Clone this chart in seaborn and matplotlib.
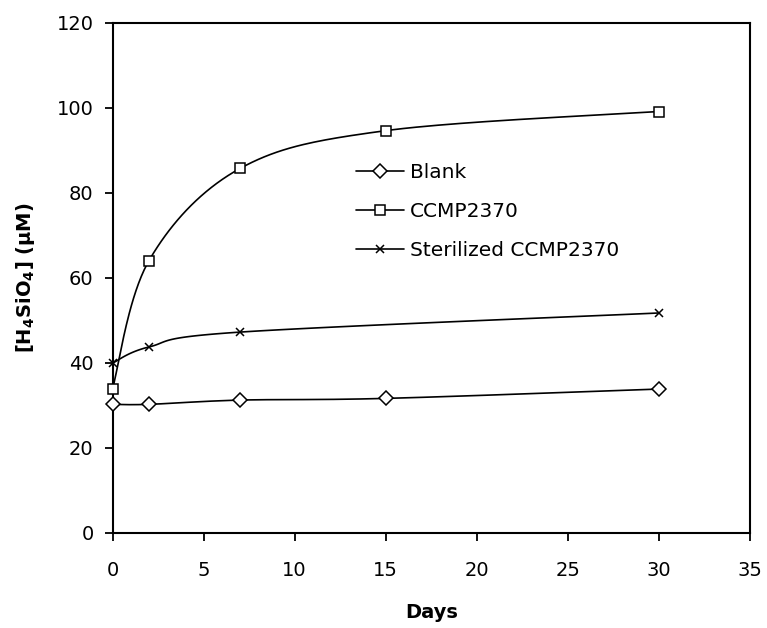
import numpy as np
import pandas as pd
import matplotlib
matplotlib.use("Agg")
import matplotlib.pyplot as plt
from matplotlib.lines import Line2D
import seaborn as sns

# ---- data ----
days_blank = [0, 2, 7, 15, 30]
blank = [30.2, 30.2, 31.2, 31.6, 33.8]
days_ccmp = [0, 2, 7, 15, 30]
ccmp = [33.8, 64.0, 85.7, 94.6, 99.1]
days_steril = [0, 2, 7, 30]
steril = [39.9, 43.7, 47.2, 51.7]
labels = ["Blank", "CCMP2370", "Sterilized CCMP2370"]
x_ticks = [0, 5, 10, 15, 20, 25, 30, 35]
y_ticks = [0, 20, 40, 60, 80, 100, 120]

sns.set_theme(style="white")
plt.rcParams["font.family"] = ["DejaVu Sans"]
plt.rcParams["mathtext.fontset"] = "dejavusans"

W, H = 767, 628
fig = plt.figure(figsize=(W / 100, H / 100), dpi=100)
L, R, T, B = 112.5, 750.0, 22.7, 532.7
ax = fig.add_axes([L / W, (H - B) / H, (R - L) / W, (B - T) / H])

XMAX, YMAX = 35.0, 120.0
sx = (R - L) / XMAX
sy = (B - T) / YMAX


def smooth(xs, ys, n=40):
    """Excel-style smoothed line (cubic Bezier, 1/6 tension) in pixel space."""
    P = np.column_stack([np.asarray(xs, float) * sx, np.asarray(ys, float) * sy])
    m = len(P)
    out = []
    for i in range(m - 1):
        p0 = P[max(i - 1, 0)]
        p1 = P[i]
        p2 = P[i + 1]
        p3 = P[min(i + 2, m - 1)]
        c1 = p1 + (p2 - p0) / 6.0
        c2 = p2 - (p3 - p1) / 6.0
        t = np.linspace(0, 1, n)[:, None]
        seg = ((1 - t) ** 3) * p1 + 3 * ((1 - t) ** 2) * t * c1 + 3 * (1 - t) * t ** 2 * c2 + t ** 3 * p2
        if i > 0:
            seg = seg[1:]
        out.append(seg)
    c = np.vstack(out)
    return c[:, 0] / sx, c[:, 1] / sy


series = [
    (days_blank, blank, "D", 6.8),
    (days_ccmp, ccmp, "s", 7.0),
    (days_steril, steril, "x", 6.0),
]

handles = []
for (xs, ys, mk, ms), lab in zip(series, labels):
    cx, cy = smooth(xs, ys)
    df_line = pd.DataFrame({"x": cx, "y": cy})
    sns.lineplot(data=df_line, x="x", y="y", ax=ax, color="black", lw=1.2,
                 sort=False, estimator=None, legend=False)
    df_pts = pd.DataFrame({"x": xs, "y": ys})
    ax.plot(df_pts["x"], df_pts["y"], linestyle="none", marker=mk, markersize=ms,
            markerfacecolor="white", markeredgecolor="black", markeredgewidth=1.1,
            zorder=5, clip_on=False)
    handles.append(Line2D([0], [0], color="black", lw=1.2, marker=mk, markersize=ms,
                          markerfacecolor="white", markeredgecolor="black",
                          markeredgewidth=1.1))

ax.set_xlim(0, XMAX)
ax.set_ylim(0, YMAX)
ax.set_xticks(x_ticks)
ax.set_yticks(y_ticks)
ax.tick_params(axis="both", which="major", direction="out", length=5.5, width=1.3,
               color="black", labelsize=14, labelcolor="black")
ax.tick_params(axis="x", pad=15, bottom=True)
ax.tick_params(axis="y", pad=8, left=True)
for s in ax.spines.values():
    s.set_visible(True)
    s.set_color("black")
    s.set_linewidth(1.5)
ax.grid(False)

ax.set_xlabel("Days", fontsize=14, fontweight="bold", color="black")
ax.set_ylabel(r"[H$_\mathbf{4}$SiO$_\mathbf{4}$] (μM)", fontsize=14,
              fontweight="bold", color="black")
ax.xaxis.set_label_coords(0.5, (B - 603) / (B - T))
ax.yaxis.set_label_coords((37 - L) / (R - L), 0.5)

leg = ax.legend(handles, labels, loc="upper left",
                bbox_to_anchor=(356 / W, 1 - 163 / H), bbox_transform=fig.transFigure,
                frameon=False, fontsize=14.5, handlelength=2.4, handletextpad=0.28,
                labelspacing=1.0, borderpad=0, borderaxespad=0)
for t in leg.get_texts():
    t.set_color("black")

fig.savefig("out.png", dpi=100)
